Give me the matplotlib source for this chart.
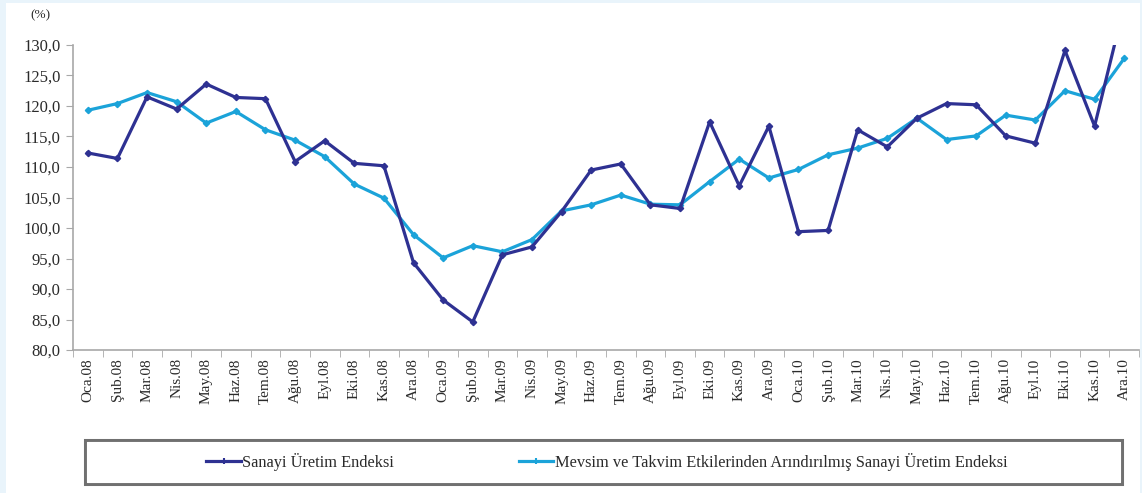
import matplotlib
matplotlib.use("Agg")
import matplotlib.pyplot as plt
from matplotlib.patches import Rectangle
from matplotlib.ticker import FuncFormatter, FixedLocator
from matplotlib.lines import Line2D

months = ["Oca.08", "Şub.08", "Mar.08", "Nis.08", "May.08", "Haz.08", "Tem.08", "Ağu.08", "Eyl.08",
          "Eki.08", "Kas.08", "Ara.08", "Oca.09", "Şub.09", "Mar.09", "Nis.09", "May.09", "Haz.09",
          "Tem.09", "Ağu.09", "Eyl.09", "Eki.09", "Kas.09", "Ara.09", "Oca.10", "Şub.10", "Mar.10",
          "Nis.10", "May.10", "Haz.10", "Tem.10", "Ağu.10", "Eyl.10", "Eki.10", "Kas.10", "Ara.10"]

sanayi = [112.3, 111.4, 121.5, 119.5, 123.6, 121.4, 121.2, 110.9, 114.3, 110.6, 110.2, 94.3,
          88.2, 84.6, 95.6, 96.9, 102.7, 109.5, 110.5, 103.8, 103.2, 117.4, 106.9, 116.7,
          99.4, 99.6, 116.1, 113.3, 118.0, 120.4, 120.2, 115.1, 113.9, 129.1, 116.7, 136.5]

mevsim = [119.3, 120.4, 122.2, 120.7, 117.2, 119.1, 116.1, 114.4, 111.7, 107.2, 104.9, 98.9,
          95.1, 97.1, 96.1, 98.1, 102.8, 103.8, 105.4, 103.9, 103.8, 107.6, 111.3, 108.2,
          109.6, 112.0, 113.1, 114.7, 118.0, 114.5, 115.1, 118.5, 117.7, 122.5, 121.1, 127.8]

series_names = ["Sanayi Üretim Endeksi",
                "Mevsim ve Takvim Etkilerinden Arındırılmış Sanayi Üretim Endeksi"]
y_ticks = [80, 85, 90, 95, 100, 105, 110, 115, 120, 125, 130]

dark = "#2E3192"
light = "#1BA3D9"
text_c = "#2A2A2A"
serif = ["Liberation Serif", "DejaVu Serif"]
plt.rcParams["font.family"] = serif

W, H = 1142, 493
fig = plt.figure(figsize=(W / 100, H / 100), dpi=100)
fig.patch.set_facecolor("#E9F4FB")
fig.add_artist(Rectangle((6 / W, 0), (1140 - 6) / W, (H - 3) / H, transform=fig.transFigure,
                         facecolor="white", edgecolor="none", zorder=0))

ax = fig.add_axes([73 / W, 1 - 350 / H, (1139 - 73) / W, (350 - 45) / H])
ax.set_facecolor("none")
x = list(range(len(months)))
ax.plot(x, sanayi, color=dark, lw=2.3, marker="D", ms=3.2, zorder=3)
ax.plot(x, mevsim, color=light, lw=2.3, marker="D", ms=3.2, zorder=2)

ax.set_xlim(-0.5, len(months) - 0.5)
ax.set_ylim(80, 130)
ax.set_yticks(y_ticks)
ax.yaxis.set_major_formatter(FuncFormatter(lambda v, p: f"{v:.1f}".replace(".", ",")))
ax.set_xticks(x)
ax.set_xticklabels(months, rotation=90, fontsize=11, color=text_c)
ax.xaxis.set_minor_locator(FixedLocator([i - 0.5 for i in range(len(months) + 1)]))
ax.tick_params(axis="x", which="major", length=0, pad=6)
ax.tick_params(axis="x", which="minor", length=5, color="#A8A8A8", direction="out")
ax.tick_params(axis="y", length=5, color="#A8A8A8", direction="out", labelsize=12, pad=4,
               labelcolor=text_c)
for s in ["top", "right"]:
    ax.spines[s].set_visible(False)
for s in ["left", "bottom"]:
    ax.spines[s].set_color("#A8A8A8")
    ax.spines[s].set_linewidth(1.2)

fig.text(40 / W, 1 - 15 / H, "(%)", ha="center", va="center", fontsize=9.5, color=text_c)

# legend box with double border
bx0, bx1, by0, by1 = 85, 1122, 440, 484
fig.add_artist(Rectangle((bx0 / W, 1 - by1 / H), (bx1 - bx0) / W, (by1 - by0) / H,
                         transform=fig.transFigure, facecolor="white", edgecolor="#707070", lw=2.2, zorder=1))
fig.add_artist(Rectangle(((bx0 + 2) / W, 1 - (by1 - 2) / H), (bx1 - bx0 - 4) / W, (by1 - by0 - 4) / H,
                         transform=fig.transFigure, facecolor="white", edgecolor="white", lw=0.8, zorder=1))
handles = [Line2D([], [], color=dark, lw=2.3, marker="|", ms=5, mew=1.5),
           Line2D([], [], color=light, lw=2.3, marker="|", ms=5, mew=1.5)]
leg = fig.legend(handles, series_names, loc="center", bbox_to_anchor=(607 / W, 1 - 462 / H), ncol=2,
                 frameon=False, fontsize=11.8, handlelength=2.1, handletextpad=0.1, columnspacing=7.6)
for t in leg.get_texts():
    t.set_color(text_c)

fig.savefig("out.png", dpi=100, facecolor=fig.get_facecolor())
